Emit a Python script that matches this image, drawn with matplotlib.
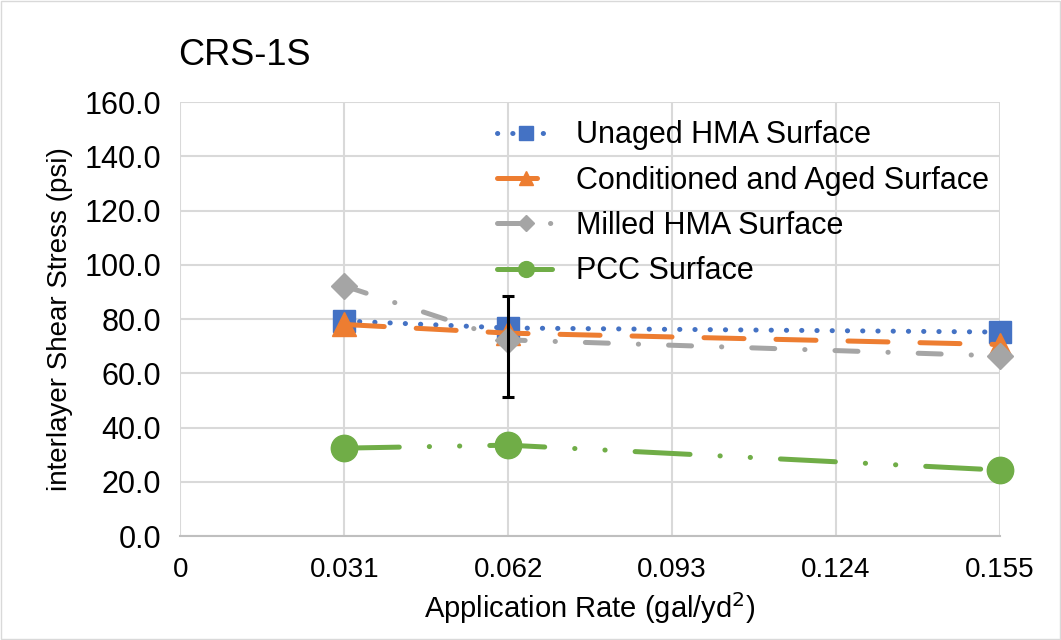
import matplotlib
matplotlib.use("Agg")
import matplotlib.pyplot as plt

plt.rcParams['font.family'] = ['Liberation Sans', 'DejaVu Sans']

rates = [0.031, 0.062, 0.155]
unaged = [79.3, 76.7, 75.2]
conditioned = [78.0, 74.8, 70.6]
milled = [92.2, 72.3, 66.4]
pcc = [32.4, 33.5, 24.3]
err_rate = [0.062]
err_center = [72.3]
err_low = [21.1]
err_high = [16.3]

xticks = [0, 0.031, 0.062, 0.093, 0.124, 0.155]
xticklabels = ["0", "0.031", "0.062", "0.093", "0.124", "0.155"]
yticks = [0, 20, 40, 60, 80, 100, 120, 140, 160]

fig = plt.figure(figsize=(10.61, 6.40), dpi=100)
ax = fig.add_axes([0.170, 0.1625, 0.7725, 0.678])

blue = "#4472C4"
orange = "#ED7D31"
gray = "#A5A5A5"
green = "#70AD47"
lw = 3.6

ax.plot(rates, unaged, color=blue, lw=lw, linestyle=(0, (0.05, 3.0)), dash_capstyle='round',
        marker='s', markersize=16, label="Unaged HMA Surface", zorder=3, clip_on=False)
ax.plot(rates, conditioned, color=orange, lw=lw, linestyle=(0, (8, 6.4)), dash_capstyle='round',
        marker='^', markersize=17, label="Conditioned and Aged Surface", zorder=4, clip_on=False)
ax.plot(rates, milled, color=gray, lw=lw, linestyle=(0, (4.6, 6, 0.05, 6)), dash_capstyle='round',
        marker='D', markersize=13, label="Milled HMA Surface", zorder=5, clip_on=False)
ax.plot(rates, pcc, color=green, lw=lw, linestyle=(0, (11, 6, 0.05, 6, 0.05, 6)), dash_capstyle='round',
        marker='o', markersize=19, label="PCC Surface", zorder=3, clip_on=False)
ax.errorbar(err_rate, err_center, yerr=[err_low, err_high], fmt='none',
            ecolor='black', elinewidth=2.2, capsize=4, capthick=2.2, zorder=6)

ax.set_xlim(0, 0.155)
ax.set_ylim(0, 160)
ax.set_xticks(xticks)
ax.set_xticklabels(xticklabels, fontsize=20)
ax.set_yticks(yticks)
ax.set_yticklabels([f"{v:.1f}" for v in yticks], fontsize=22)
ax.tick_params(axis='x', length=0, pad=15)
ax.tick_params(axis='y', length=0, pad=14)
ax.grid(True, color="#D9D9D9", lw=1.5)
ax.set_axisbelow(True)
for s in ['top', 'right', 'left']:
    ax.spines[s].set_visible(False)
ax.spines['bottom'].set_color("#BFBFBF")
ax.spines['bottom'].set_linewidth(1.5)

ax.set_xlabel("Application Rate (gal/yd$^2$)", fontsize=21, labelpad=5)
ax.set_ylabel("interlayer Shear Stress (psi)", fontsize=20, labelpad=8)

fig.text(0.168, 0.913, "CRS-1S", fontsize=26, ha='left', va='center')

leg = ax.legend(loc='upper left', bbox_to_anchor=(0.364, 1.0), frameon=False, fontsize=22,
                handlelength=1.9, labelspacing=0.5, handletextpad=0.7, markerscale=0.6,
                borderaxespad=0.2)

fig.patches.append(plt.Rectangle((0.001, 0.001), 0.998, 0.998, transform=fig.transFigure,
                                 fill=False, edgecolor="#D9D9D9", lw=1))

fig.savefig("out.png", dpi=100)
